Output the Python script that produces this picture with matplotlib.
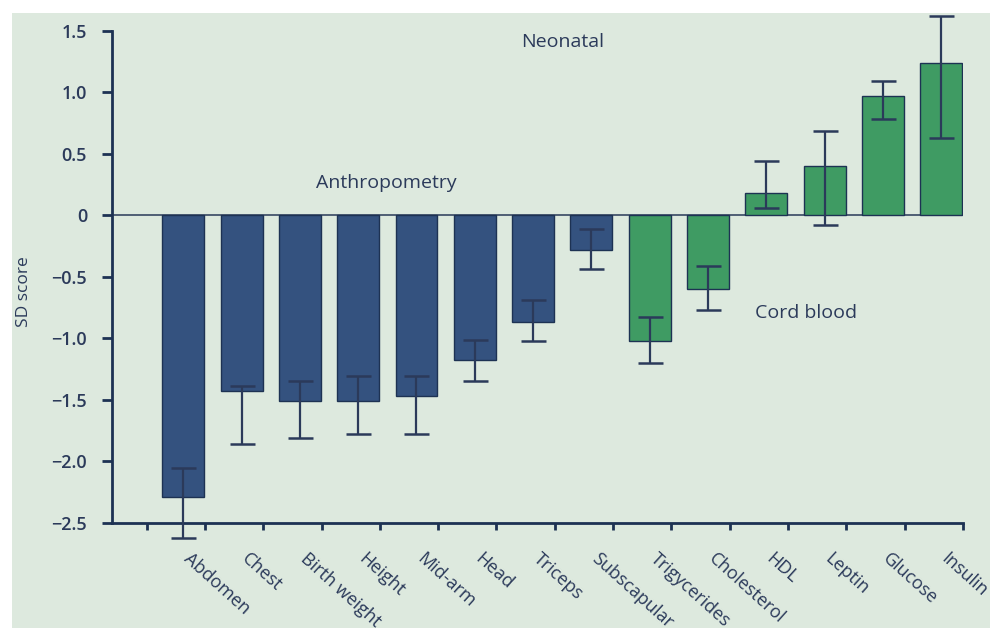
import matplotlib
matplotlib.use("Agg")
import matplotlib.pyplot as plt
from matplotlib.patches import Rectangle
import numpy as np

plt.rcParams['font.family'] = ['Open Sans', 'DejaVu Sans']

# SD scores with lower / upper confidence limits
categories = ["Abdomen", "Chest", "Birth weight", "Height", "Mid-arm", "Head",
              "Triceps", "Subscapular", "Trigycerides", "Cholesterol", "HDL",
              "Leptin", "Glucose", "Insulin"]
scores = [-2.29, -1.43, -1.51, -1.51, -1.47, -1.18, -0.87, -0.28,
          -1.02, -0.60, 0.18, 0.40, 0.97, 1.24]
ci_low = [-2.62, -1.86, -1.81, -1.78, -1.78, -1.35, -1.02, -0.44,
          -1.20, -0.77, 0.06, -0.08, 0.78, 0.63]
ci_high = [-2.05, -1.39, -1.35, -1.31, -1.31, -1.01, -0.69, -0.11,
           -0.83, -0.41, 0.44, 0.68, 1.09, 1.62]
group = ["anthro"] * 8 + ["cord"] * 6
yticks = [1.5, 1.0, 0.5, 0, -0.5, -1.0, -1.5, -2.0, -2.5]
ytick_labels = ["1.5", "1.0", "0.5", "0", "\u22120.5", "\u22121.0",
                "\u22121.5", "\u22122.0", "\u22122.5"]

navy = "#2b3a5a"
blue = "#34527f"
green = "#3f9b63"
edge = "#1d3253"
bg = "#dde9de"

fig = plt.figure(figsize=(10, 6.28), dpi=100)
fig.patch.set_facecolor("white")
fig.patches.append(Rectangle((12 / 1000, 0), (990 - 12) / 1000, 1 - 13 / 628,
                             transform=fig.transFigure, facecolor=bg,
                             edgecolor="none", zorder=-10))

ax = fig.add_axes([0.112, 1 - 523 / 628, 0.851, (523 - 30.5) / 628])
ax.set_facecolor("none")

x = np.arange(len(categories))
colors = [blue if g == "anthro" else green for g in group]
ax.bar(x, scores, width=0.72, color=colors, edgecolor=edge, linewidth=1.0,
       zorder=2)

yerr = np.array([np.array(scores) - np.array(ci_low),
                 np.array(ci_high) - np.array(scores)])
eb = ax.errorbar(x, scores, yerr=yerr, fmt="none", ecolor=navy,
                 elinewidth=1.6, capsize=9, capthick=1.8, zorder=3)
for artist in list(eb.lines[1]) + list(eb.lines[2]):
    artist.set_clip_on(False)

ax.axhline(0, color="#44546c", lw=1.3, zorder=1)

ax.set_xlim(-1.223, 13.374)
ax.set_ylim(-2.5, 1.5)

for s in ["top", "right"]:
    ax.spines[s].set_visible(False)
for s in ["left", "bottom"]:
    ax.spines[s].set_color(edge)
    ax.spines[s].set_linewidth(2.0)

ax.set_yticks(yticks)
ax.set_yticklabels(ytick_labels)
ax.tick_params(axis="y", direction="out", length=7, width=2, color=edge,
               labelsize=13, labelcolor=navy, pad=11)
ax.set_xticks([-0.623] + list(x + 0.372))
ax.set_xticklabels([])
ax.tick_params(axis="x", direction="out", length=5, width=2, color=edge)
for lab in ax.get_yticklabels():
    lab.set_fontweight("semibold")

# category labels, slanted down to the right
for xi, name in zip(x, categories):
    ax.annotate(name, xy=(xi, 0), xycoords=("data", "axes fraction"),
                xytext=(2, -24), textcoords="offset points",
                rotation=-42, rotation_mode="anchor", ha="left", va="center",
                fontsize=13, color=navy)

ax.set_ylabel("SD score", fontsize=12.5, color=navy)
ax.yaxis.set_label_coords(-0.094, 0.47)

ax.text(6.5, 1.41, "Neonatal", fontsize=14, color=navy, ha="center",
        va="center")
ax.text(3.49, 0.26, "Anthropometry", fontsize=14, color=navy, ha="center",
        va="center")
ax.text(10.68, -0.795, "Cord blood", fontsize=14, color=navy, ha="center",
        va="center")

fig.savefig("out.png", dpi=100, facecolor=fig.get_facecolor())
